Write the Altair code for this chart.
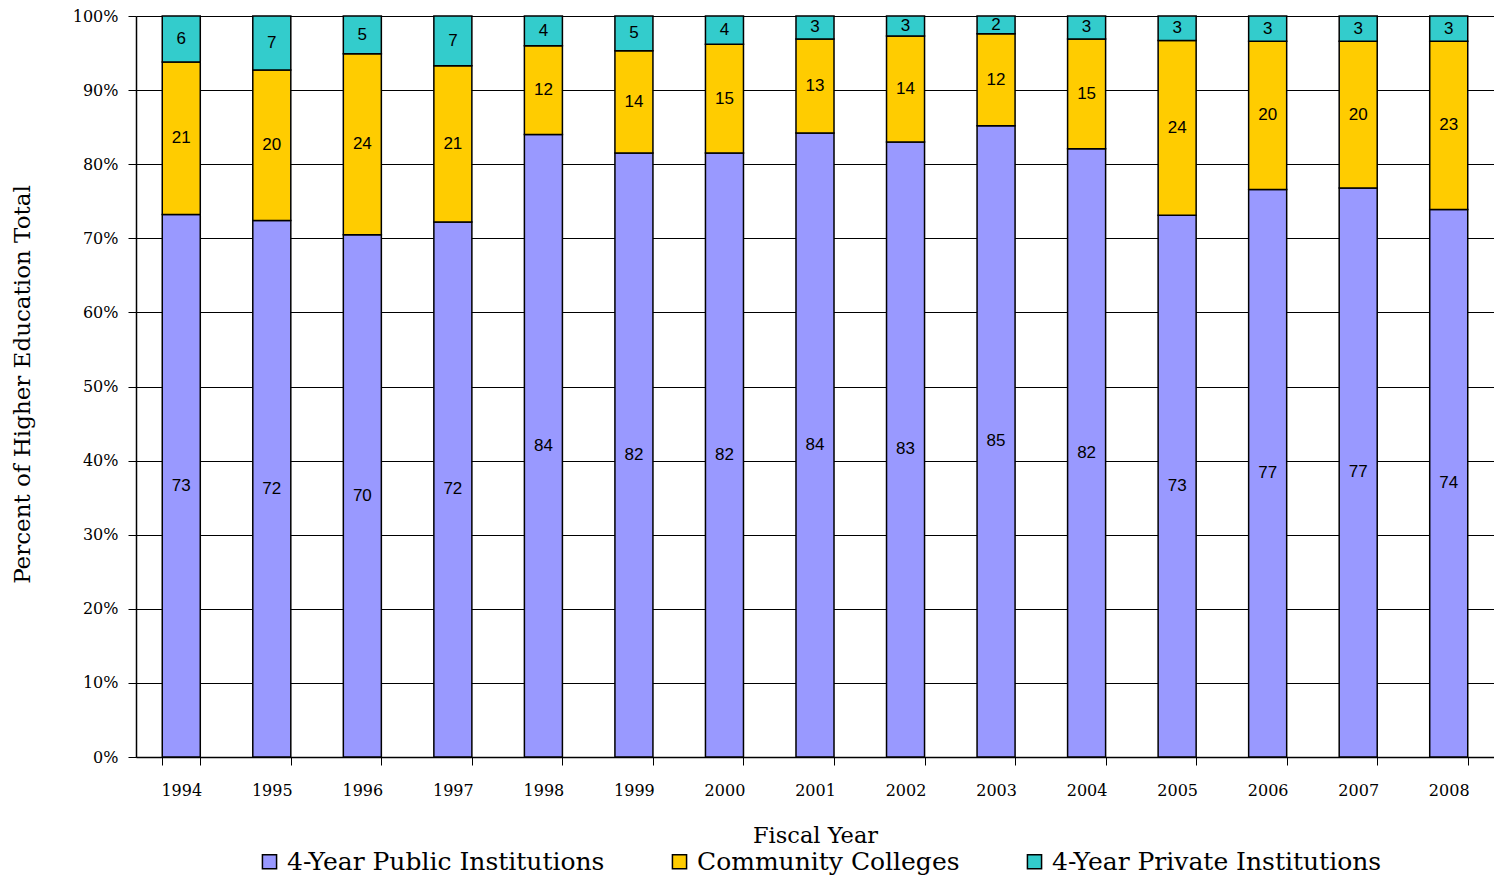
import altair as alt
import pandas as pd

years = [str(y) for y in range(1994, 2009)]
public = [73.2, 72.4, 70.4, 72.2, 84.0, 81.6, 81.6, 84.2, 83.0, 85.2, 82.1, 73.1, 76.6, 76.8, 73.9]
community = [20.6, 20.3, 24.4, 21.1, 12.0, 13.8, 14.7, 12.7, 14.3, 12.4, 14.8, 23.6, 20.0, 19.8, 22.7]
private = [6.2, 7.3, 5.1, 6.7, 4.0, 4.7, 3.8, 3.1, 2.7, 2.4, 3.1, 3.3, 3.4, 3.4, 3.4]

series = ["4-Year Public Institutions", "Community Colleges", "4-Year Private Institutions"]
colors = ["#9999FF", "#FFCC00", "#33CCCC"]

rows = []
for i, y in enumerate(years):
    for k, vals in enumerate([public, community, private]):
        rows.append({"year": y, "series": series[k], "order": k, "value": vals[i]})
df = pd.DataFrame(rows)

serif = "DejaVu Serif"
sans = "Liberation Sans"

base = alt.Chart(df).transform_joinaggregate(
    total="sum(value)", groupby=["year"]
).transform_calculate(
    frac="datum.value / datum.total",
    label="format(datum.value, '.0f')",
).transform_stack(
    stack="frac", groupby=["year"], sort=[alt.SortField("order")], as_=["y0", "y1"]
).transform_calculate(
    mid="(datum.y0 + datum.y1) / 2"
)

xenc = alt.X(
    "year:N",
    title="Fiscal Year",
    scale=alt.Scale(paddingInner=0.58, paddingOuter=0.29),
    axis=alt.Axis(
        labelAngle=0,
        tickBand="extent",
        tickSize=8,
        tickColor="#000",
        domainColor="#000",
        labelPadding=17,
        labelFont=serif,
        labelFontSize=16,
        labelColor="#000",
        titleFont=serif,
        titleFontSize=22.5,
        titleFontWeight="normal",
        titleColor="#000",
        titleBaseline="middle",
        titleY=78,
    ),
)

bars = base.mark_bar(stroke="#000", strokeWidth=1.5).encode(
    x=xenc,
    y=alt.Y(
        "y0:Q",
        title="Percent of Higher Education Total",
        scale=alt.Scale(domain=[0, 1], nice=False),
        axis=alt.Axis(
            format=".0%",
            values=[i / 10 for i in range(11)],
            grid=True,
            gridColor="#000",
            gridWidth=1,
            tickSize=8,
            tickColor="#000",
            domainColor="#000",
            labelPadding=10,
            labelFont=serif,
            labelFontSize=16,
            labelColor="#000",
            titleFont=serif,
            titleFontSize=23,
            titleFontWeight="normal",
            titleColor="#000",
            titleAngle=270,
            titleX=-114,
            titleY=368,
            titleAlign="center",
            titleBaseline="middle",
        ),
    ),
    y2="y1:Q",
    color=alt.Color(
        "series:N",
        scale=alt.Scale(domain=series, range=colors),
        sort=series,
        legend=alt.Legend(
            title=None,
            orient="none",
            direction="horizontal",
            legendX=121,
            legendY=833,
            symbolType="square",
            symbolSize=200,
            symbolStrokeColor="#000",
            symbolStrokeWidth=1.5,
            labelFont=serif,
            labelFontSize=25,
            labelColor="#000",
            labelLimit=500,
            labelOffset=5,
            columnPadding=62,
            padding=0,
        ),
    ),
    order=alt.Order("order:Q"),
)

texts = base.mark_text(font=sans, fontSize=17, color="#000", baseline="middle").encode(
    x=alt.X("year:N"),
    y=alt.Y("mid:Q"),
    text="label:N",
)

chart = alt.layer(bars, texts).properties(
    width=1358,
    height=741,
    autosize=alt.AutoSizeParams(type="none"),
    padding={"left": 128, "top": 8, "right": 0, "bottom": 119},
).configure_view(stroke=None).configure_axis(domainWidth=1.5, tickWidth=1)

chart.save("out.html", embed_options={"renderer": "svg", "actions": False})
